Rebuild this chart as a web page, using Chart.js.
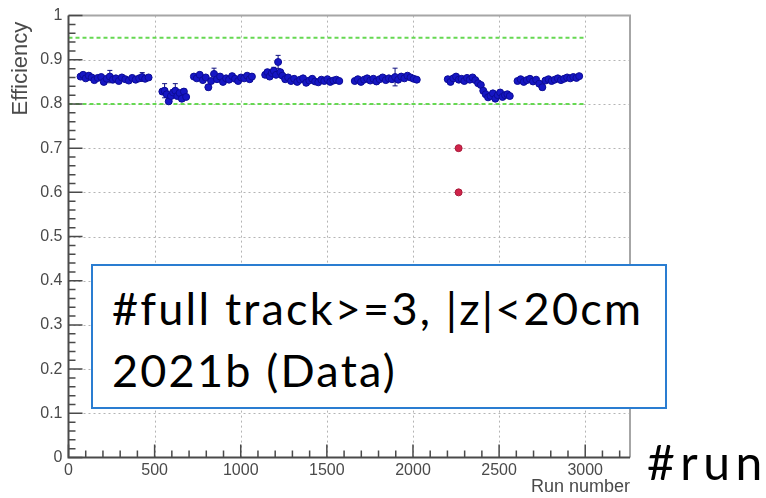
<!DOCTYPE html>
<html>
<head>
<meta charset="utf-8">
<script src="https://cdn.jsdelivr.net/npm/chart.js@4"></script>
<style>
  html, body { margin: 0; padding: 0; background: #fff; }
  #wrap { position: relative; width: 766px; height: 498px; overflow: hidden; }
  #chart { position: absolute; left: 0; top: 0; }
  .note { position: absolute; font-family: Lato, "Open Sans", sans-serif; font-size: 45px; letter-spacing: 2.2px; line-height: 62px; color: #000; white-space: nowrap; }
  #box { left: 91px; top: 264px; width: 553px; height: 130px; padding: 11px 0 0 19px; border: 2px solid #2a7dd1; background: #fff; }
  #runTag { left: 647px; top: 431px; font-size: 48px; letter-spacing: 5.5px; }
</style>
</head>
<body>
<div id="wrap">
  <canvas id="chart" width="766" height="498"></canvas>
  <div id="box" class="note">#full track&gt;=3, |z|&lt;20cm<br>2021b (Data)</div>
  <div id="runTag" class="note">#run</div>
</div>
<script>
// Efficiency per run (blue points), one line per group of runs
const runNumbers = [
    70, 85, 100, 118, 135, 150, 170, 190, 205, 222, 240, 258, 275, 292, 310, 330, 350, 370, 390, 410, 428, 445, 465,
    545, 558, 570, 582, 595, 607, 620, 632, 645, 658, 670, 683,
    728, 745, 762, 780, 797, 812, 828, 845, 862, 880, 897, 915, 932, 950, 967, 985, 1002, 1020, 1037, 1052, 1065,
    1142, 1155, 1168, 1180, 1192, 1205, 1217, 1230, 1242,
    1258, 1275, 1292, 1310, 1328, 1345, 1362, 1380, 1398, 1415, 1432, 1450, 1468, 1485, 1503, 1520, 1538, 1555, 1572,
    1662, 1680, 1698, 1716, 1734, 1752, 1770, 1788, 1806, 1824, 1842, 1860, 1878, 1896, 1914, 1932, 1950, 1968, 1986, 2004, 2022,
    2202, 2218, 2234, 2250, 2266, 2282, 2298, 2314, 2330, 2346, 2362, 2378, 2394,
    2408, 2422, 2436, 2450, 2464, 2478, 2492, 2506, 2520, 2534, 2548, 2562,
    2607, 2625, 2643, 2661, 2679, 2697, 2715, 2733, 2751, 2769, 2787, 2805, 2823, 2841, 2859, 2877, 2895, 2913, 2931, 2949, 2965
];
const efficiency = [
    0.862, 0.866, 0.858, 0.864, 0.860, 0.854, 0.859, 0.861, 0.850, 0.857, 0.862, 0.855, 0.858, 0.852, 0.860, 0.856, 0.853, 0.859, 0.855, 0.858, 0.861, 0.857, 0.860,
    0.828, 0.830, 0.822, 0.806, 0.818, 0.826, 0.830, 0.818, 0.825, 0.812, 0.828, 0.816,
    0.862, 0.858, 0.866, 0.854, 0.860, 0.838, 0.852, 0.868, 0.856, 0.862, 0.850, 0.858, 0.855, 0.863, 0.857, 0.852, 0.860, 0.858, 0.864, 0.856, 0.862,
    0.866, 0.872, 0.862, 0.870, 0.875, 0.866, 0.895, 0.872, 0.864,
    0.856, 0.860, 0.852, 0.857, 0.850, 0.855, 0.858, 0.848, 0.853, 0.857, 0.851, 0.849, 0.855, 0.852, 0.856, 0.850, 0.853, 0.855, 0.852,
    0.852, 0.856, 0.850, 0.855, 0.858, 0.853, 0.857, 0.851, 0.856, 0.860, 0.854, 0.858, 0.856, 0.861, 0.855, 0.862, 0.858, 0.864, 0.860, 0.857, 0.855,
    0.856, 0.850, 0.858, 0.862, 0.855, 0.857, 0.852, 0.859, 0.855, 0.860, 0.854, 0.847, 0.843,
    0.830, 0.822, 0.815, 0.818, 0.824, 0.812, 0.820, 0.826, 0.816, 0.820, 0.822, 0.818,
    0.852, 0.856, 0.850, 0.854, 0.857, 0.851, 0.855, 0.846, 0.838, 0.853, 0.856, 0.852, 0.855, 0.858, 0.854, 0.857, 0.860, 0.858, 0.861, 0.859, 0.863
];
const effError = [
    0.004, 0.005, 0.004, 0.006, 0.004, 0.005, 0.004, 0.004, 0.006, 0.005, 0.014, 0.004, 0.005, 0.004, 0.004, 0.005, 0.004, 0.004, 0.005, 0.004, 0.010, 0.004, 0.005,
    0.006, 0.016, 0.006, 0.005, 0.006, 0.006, 0.016, 0.006, 0.005, 0.006, 0.006, 0.005,
    0.004, 0.005, 0.004, 0.005, 0.004, 0.006, 0.005, 0.013, 0.004, 0.005, 0.004, 0.005, 0.004, 0.005, 0.004, 0.005, 0.004, 0.005, 0.004, 0.005, 0.004,
    0.005, 0.006, 0.005, 0.006, 0.008, 0.005, 0.015, 0.006, 0.005,
    0.004, 0.005, 0.004, 0.004, 0.005, 0.004, 0.004, 0.005, 0.004, 0.004, 0.005, 0.004, 0.004, 0.005, 0.004, 0.004, 0.005, 0.004, 0.004,
    0.004, 0.005, 0.004, 0.004, 0.005, 0.004, 0.004, 0.005, 0.004, 0.005, 0.004, 0.005, 0.004, 0.020, 0.004, 0.005, 0.004, 0.005, 0.004, 0.005, 0.004,
    0.005, 0.004, 0.005, 0.004, 0.005, 0.004, 0.005, 0.004, 0.005, 0.004, 0.005, 0.004, 0.005,
    0.005, 0.004, 0.005, 0.004, 0.005, 0.004, 0.005, 0.004, 0.005, 0.004, 0.005, 0.004,
    0.004, 0.005, 0.004, 0.004, 0.005, 0.004, 0.004, 0.005, 0.006, 0.004, 0.005, 0.004, 0.004, 0.005, 0.004, 0.004, 0.005, 0.004, 0.004, 0.005, 0.004
];

// Red outliers
const badRuns = [2265, 2265];
const badEff = [0.70, 0.60];

// Green reference band
const cutLevels = [0.80, 0.95];
const cutRunRange = [0, 3000];

// Axes
const xTicks = [0, 500, 1000, 1500, 2000, 2500, 3000];
const yTicks = [0, 0.1, 0.2, 0.3, 0.4, 0.5, 0.6, 0.7, 0.8, 0.9, 1];
const xMax = 3260;

const blueData = runNumbers.map((r, i) => ({ x: r, y: efficiency[i] }));
const redData = badRuns.map((r, i) => ({ x: r, y: badEff[i] }));

const cutSets = cutLevels.map(level => ({
    data: cutRunRange.map(r => ({ x: r, y: level })),
    showLine: true,
    borderColor: '#66d852',
    borderWidth: 2,
    borderDash: [4, 3],
    pointRadius: 0
}));

const axisFont = { family: '"Liberation Sans", Arial, sans-serif', size: 16 };

// ROOT-like frame, dotted grid, inner tick marks and error bars
const rootStyle = {
    id: 'rootStyle',
    beforeDatasetsDraw(chart) {
        const { ctx, chartArea: a, scales: { x, y } } = chart;
        ctx.save();
        ctx.strokeStyle = '#b4b4b4';
        ctx.lineWidth = 1;
        ctx.setLineDash([2, 3]);
        xTicks.forEach(v => {
            if (v === 0) return;
            const px = Math.round(x.getPixelForValue(v)) + 0.5;
            ctx.beginPath(); ctx.moveTo(px, a.top); ctx.lineTo(px, a.bottom); ctx.stroke();
        });
        yTicks.forEach(v => {
            if (v === 0 || v === 1) return;
            const py = Math.round(y.getPixelForValue(v)) + 0.5;
            ctx.beginPath(); ctx.moveTo(a.left, py); ctx.lineTo(a.right, py); ctx.stroke();
        });
        ctx.setLineDash([]);

        // error bars
        ctx.strokeStyle = '#101080';
        ctx.lineWidth = 1;
        efficiency.forEach((e, i) => {
            const px = x.getPixelForValue(runNumbers[i]);
            const y1 = y.getPixelForValue(e - effError[i]);
            const y2 = y.getPixelForValue(e + effError[i]);
            ctx.beginPath();
            ctx.moveTo(px, y1); ctx.lineTo(px, y2);
            ctx.moveTo(px - 2.5, y1); ctx.lineTo(px + 2.5, y1);
            ctx.moveTo(px - 2.5, y2); ctx.lineTo(px + 2.5, y2);
            ctx.stroke();
        });
        ctx.restore();
    },
    afterDraw(chart) {
        const { ctx, chartArea: a, scales: { x, y } } = chart;
        ctx.save();
        ctx.lineWidth = 2;
        ctx.strokeStyle = '#a6a6a6';
        ctx.beginPath();
        ctx.moveTo(a.left, a.top); ctx.lineTo(a.right, a.top); ctx.lineTo(a.right, a.bottom);
        ctx.stroke();

        ctx.strokeStyle = '#4a4a4a';
        ctx.beginPath();
        ctx.moveTo(a.left, a.top); ctx.lineTo(a.left, a.bottom); ctx.lineTo(a.right, a.bottom);
        ctx.stroke();

        // tick marks on the inside of the axes
        ctx.lineWidth = 1.5;
        ctx.beginPath();
        for (let k = 0; k * 100 <= xMax; k++) {
            const px = x.getPixelForValue(k * 100);
            const len = k % 5 === 0 ? 13 : 7;
            ctx.moveTo(px, a.bottom); ctx.lineTo(px, a.bottom - len);
        }
        for (let k = 0; k <= 50; k++) {
            const py = y.getPixelForValue(k * 0.02);
            const len = k % 5 === 0 ? 14 : 7;
            ctx.moveTo(a.left, py); ctx.lineTo(a.left + len, py);
        }
        ctx.stroke();
        ctx.restore();
    }
};

new Chart(document.getElementById('chart'), {
    type: 'scatter',
    data: {
        datasets: [
            {
                data: blueData,
                pointRadius: 3.5,
                pointBackgroundColor: '#1616c4',
                pointBorderColor: '#0c0c96',
                pointBorderWidth: 1
            },
            {
                data: redData,
                pointRadius: 3.5,
                pointBackgroundColor: '#d0244a',
                pointBorderColor: '#a81a3a',
                pointBorderWidth: 1
            },
            ...cutSets
        ]
    },
    options: {
        responsive: false,
        animation: false,
        layout: { padding: { top: 10, right: 136, bottom: 0, left: 0 } },
        plugins: { legend: { display: false }, tooltip: { enabled: false } },
        scales: {
            x: {
                type: 'linear',
                position: 'bottom',
                min: 0,
                max: xMax,
                afterBuildTicks: s => { s.ticks = xTicks.map(v => ({ value: v })); },
                afterFit: s => { s.height = 40.5; },
                grid: { display: false, drawTicks: false },
                border: { display: false },
                ticks: {
                    padding: 3,
                    color: '#4a4a4a',
                    callback: v => String(v),
                    font: axisFont
                },
                title: {
                    display: true,
                    text: 'Run number',
                    align: 'end',
                    color: '#4a4a4a',
                    padding: { top: 0, bottom: 0 },
                    font: { family: '"Liberation Sans", Arial, sans-serif', size: 18 }
                }
            },
            y: {
                type: 'linear',
                min: 0,
                max: 1,
                afterBuildTicks: s => { s.ticks = yTicks.map(v => ({ value: v })); },
                afterFit: s => { s.width = 68.5; },
                grid: { display: false, drawTicks: false },
                border: { display: false },
                ticks: {
                    padding: 6,
                    color: '#4a4a4a',
                    callback: v => String(v),
                    font: axisFont
                },
                title: {
                    display: true,
                    text: 'Efficiency ',
                    align: 'end',
                    color: '#4a4a4a',
                    padding: { top: 8, bottom: 0 },
                    font: { family: '"Liberation Sans", Arial, sans-serif', size: 22 }
                }
            }
        }
    },
    plugins: [rootStyle]
});
</script>
</body>
</html>
